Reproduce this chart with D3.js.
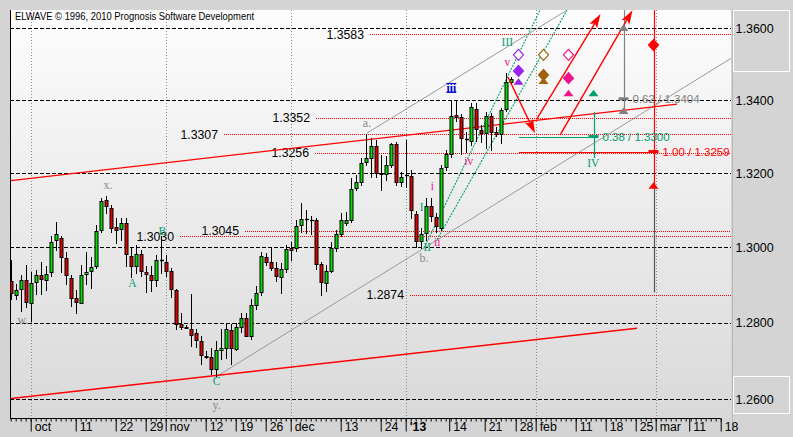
<!DOCTYPE html>
<html><head><meta charset="utf-8">
<script src="https://cdn.jsdelivr.net/npm/d3@7/dist/d3.min.js"></script>
<style>
html,body{margin:0;padding:0;background:#d4d4d4;overflow:hidden}
svg{display:block}
</style></head><body>
<svg id="chart" width="793" height="437"></svg>
<script>
// ---------------- DATA ----------------
const firstIndex = -4; // candle index of first bar (0 = 1 Oct 2012)
const opens = [
1.2911,1.2873,1.2890,1.2914,1.2853,1.2907,1.2925,1.2912,1.2934,1.3019,
1.3025,1.2971,1.2918,1.2866,1.2853,1.2929,1.2936,1.2950,1.3047,1.3128,
1.3107,1.3055,1.3048,1.3066,1.2977,1.2949,1.2982,1.2934,1.2926,1.2912,
1.2966,1.2961,1.2938,1.2885,1.2796,1.2788,1.2782,1.2772,1.2751,1.2710,
1.2709,1.2679,1.2727,1.2734,1.2780,1.2731,1.2787,1.2811,1.2765,1.2846,
1.2881,1.2975,1.2961,1.2946,1.2921,1.2943,1.2999,1.2997,1.3059,1.3075,
1.3073,1.3074,1.2955,1.2905,1.2938,1.2999,1.3036,1.3065,1.3072,1.3160,
1.3176,1.3230,1.3241,1.3274,1.3200,1.3198,1.3223,1.3279,1.3176,1.3194,
1.3193,1.3090,1.3017,1.3038,1.3110,1.3081,1.3053,1.3216,1.3253,1.3359,
1.3353,1.3292,1.3288,1.3377,1.3318,1.3309,1.3356,1.3313,1.3306,1.3375,
1.3451];
const highs = [
1.2967,1.2901,1.2925,1.2953,1.2934,1.2940,1.2962,1.2951,1.3029,1.3069,
1.3031,1.2988,1.2927,1.2885,1.2952,1.2987,1.2975,1.3059,1.3133,1.3139,
1.3114,1.3079,1.3079,1.3079,1.2997,1.3006,1.2993,1.2949,1.2949,1.2980,
1.3030,1.2980,1.2946,1.2890,1.2826,1.2793,1.2875,1.2782,1.2765,1.2724,
1.2734,1.2751,1.2782,1.2800,1.2796,1.2800,1.2825,1.2825,1.2861,1.2896,
1.2988,1.2984,1.3002,1.2961,1.2958,1.3006,1.3013,1.3074,1.3119,1.3101,
1.3083,1.3079,1.2961,1.2953,1.3015,1.3047,1.3092,1.3095,1.3187,1.3195,
1.3241,1.3307,1.3295,1.3291,1.3250,1.3247,1.3282,1.3285,1.3203,1.3291,
1.3209,1.3098,1.3052,1.3133,1.3133,1.3093,1.3223,1.3264,1.3400,1.3400,
1.3362,1.3313,1.3391,1.3391,1.3332,1.3368,1.3364,1.3327,1.3378,1.3474,
1.3464];
const lows = [
1.2861,1.2861,1.2831,1.2840,1.2804,1.2875,1.2876,1.2885,1.2923,1.2993,
1.2934,1.2901,1.2844,1.2826,1.2851,1.2903,1.2892,1.2945,1.3041,1.3092,
1.3041,1.3011,1.3020,1.2951,1.2920,1.2932,1.2923,1.2881,1.2883,1.2896,
1.2932,1.2923,1.2867,1.2782,1.2782,1.2785,1.2738,1.2735,1.2690,1.2706,
1.2664,1.2661,1.2703,1.2708,1.2690,1.2727,1.2774,1.2764,1.2756,1.2835,
1.2872,1.2953,1.2940,1.2909,1.2879,1.2935,1.2967,1.2990,1.3042,1.3039,
1.3036,1.2943,1.2874,1.2883,1.2935,1.2990,1.3031,1.3060,1.3069,1.3155,
1.3168,1.3223,1.3189,1.3189,1.3155,1.3182,1.3217,1.3168,1.3166,1.3163,
1.3079,1.3001,1.2998,1.3020,1.3071,1.3042,1.3047,1.3209,1.3244,1.3343,
1.3252,1.3259,1.3277,1.3288,1.3285,1.3268,1.3264,1.3302,1.3282,1.3370,
1.3447];
const closes = [
1.2877,1.2885,1.2914,1.2854,1.2905,1.2926,1.2916,1.2930,1.3014,1.3035,
1.2975,1.2925,1.2866,1.2855,1.2925,1.2934,1.2948,1.3044,1.3125,1.3110,
1.3053,1.3046,1.3065,1.2982,1.2949,1.2982,1.2936,1.2929,1.2912,1.2967,
1.2966,1.2938,1.2888,1.2797,1.2789,1.2789,1.2767,1.2753,1.2714,1.2711,
1.2679,1.2727,1.2734,1.2782,1.2732,1.2787,1.2811,1.2765,1.2846,1.2879,
1.2977,1.2960,1.2946,1.2923,1.2943,1.2996,1.2993,1.3058,1.3076,1.3075,
1.3073,1.2955,1.2908,1.2938,1.2999,1.3037,1.3072,1.3074,1.3157,1.3175,
1.3229,1.3242,1.3274,1.3200,1.3198,1.3221,1.3279,1.3176,1.3189,1.3194,
1.3101,1.3017,1.3035,1.3110,1.3083,1.3056,1.3214,1.3253,1.3356,1.3353,
1.3295,1.3292,1.3382,1.3321,1.3309,1.3356,1.3313,1.3306,1.3373,1.3451,
1.3460];

const priceTicks = [1.26,1.28,1.30,1.32,1.34,1.36];
const dateTickIdx = [0,9,17,23,27,35,41,47,52,62,70,75,83.7,90.8,97,101,109,115,121,125,131.7,138];
const dateTickLabels = ['oct','11','22','29','nov','12','19','26','dec','13','24',"'13",'14','21','28','feb','11','18','25','mar','11','18'];
const monthLabels = ['oct','nov','dec',"'13",'feb','mar'];

const levelValues  = [1.3583,1.3352,1.3307,1.3256,1.3045,1.3030,1.2874];
const levelFromIdx = [67.6, 56.8, 38.4, 56.6, 42.6, 29.6, 75.6];

const redChannel   = [[[-4.2,1.3180],[129,1.3389]], [[-4.4,1.2601],[121,1.2785]]];
const grayChannel  = [[[36.94,1.2659],[139.8,1.3516]], [[66.94,1.3309],[107,1.3651]]];
const greenChannel = [[[78.4,1.2998],[101.6,1.3651]], [[81,1.3020],[107,1.3651]]];
const arrowLines   = [[[95.2,1.3464],[100.6,1.3309]], [[100.9,1.3347],[113.7,1.3640]], [[105.6,1.3304],[120.1,1.3651]]];

const targetRatio  = ['0.62','0.38','1.00'];
const targetPrice  = [1.3404,1.3300,1.3259];
const targetIdx    = [118.3,112.3,124.3];
const targetFrom   = [null,97.4,97.4];
const targetGroup  = ['gray','green','red'];

const verticalIdx    = [118.3,112.3,124.3,124.3];
const verticalTop    = [1.3651,1.3368,1.3651,1.3166];
const verticalBottom = [1.3365,1.3241,1.3166,1.2880];
const verticalGroup  = ['gray','green','red','dgray'];

const markerIdx   = [97.3,97.3,97.3,102.3,102.3,102.3,107.3,107.3,107.3,112.3,124.3,124.3,118.3,118.3];
const markerPrice = [1.3526,1.3481,1.3451,1.3526,1.3470,1.3453,1.3526,1.3461,1.3419,1.3419,1.3553,1.3166,1.3370,1.3601];
const markerShape = ['dh','d','t','dh','d','t','dh','d','t','t','d','t','t','t'];
const markerGroup = ['purple','purple','purple','brown','brown','brown','pink','pink','pink','green','red','red','gray','gray'];

const waveText  = ['w.','x.','A','B','C','y.','a.','b.','I','II','i','ii','iii','iv','v','III','IV'];
const waveIdx   = [-1.8,15.2,20.06,26.06,36.94,36.94,67,78.4,77.94,79.06,80.06,81.06,83.86,87.34,95.06,95.06,112.26];
const wavePrice = [1.2806,1.3168,1.2906,1.3043,1.2646,1.2584,1.3336,1.2971,1.3108,1.3002,1.3164,1.3013,1.3434,1.3232,1.3507,1.3563,1.3228];
const waveGroup = ['wgray','wgray','green','green','green','wgray','wgray','wgray','green','green','pink','pink','blue','pink','pink','green','green'];

// ---------------- STYLE / LAYOUT ----------------
const colors = {green:'#00a070', pink:'#f0148c', gray:'#808080', wgray:'#8a8a8a', blue:'#0000d0',
  purple:'#9a22ee', brown:'#a0620c', red:'#ff0000', dgray:'#555555'};
const PL=10, PR=731, PT=10, PB=418;
const sans = '"Liberation Sans", Arial, sans-serif';
const serif = '"Liberation Serif", "Times New Roman", serif';

const svg = d3.select('#chart');
const x = d3.scaleLinear().domain([0,138]).range([32,722]);
const y = d3.scaleLog().domain([1.26,1.36]).range([399,28.3]);
const px = (v) => Math.round(v) + 0.5;

const defs = svg.append('defs');
const grad = defs.append('linearGradient').attr('id','bg').attr('x1',0).attr('y1',0).attr('x2',0).attr('y2',1);
grad.append('stop').attr('offset','0%').attr('stop-color','#fdfdfd');
grad.append('stop').attr('offset','100%').attr('stop-color','#d9d9d9');
defs.append('clipPath').attr('id','plotClip').append('rect').attr('x',PL+1).attr('y',PT).attr('width',PR-PL-1).attr('height',PB-PT);

svg.append('rect').attr('width',793).attr('height',437).attr('fill','#d4d4d4');
svg.append('rect').attr('x',PL).attr('y',PT).attr('width',PR-PL).attr('height',PB-PT).attr('fill','url(#bg)');

// right axis panel
const panel = svg.append('g');
panel.append('line').attr('x1',732.5).attr('x2',732.5).attr('y1',PT).attr('y2',430).attr('stroke','#b8b8b8');
panel.append('rect').attr('x',733.5).attr('y',10.5).attr('width',56).attr('height',61).attr('fill','none').attr('stroke','#ffffff');
panel.append('rect').attr('x',733.5).attr('y',376.5).attr('width',56).attr('height',37).attr('fill','none').attr('stroke','#ffffff');

const plot = svg.append('g').attr('clip-path','url(#plotClip)');

// month separators
const monthIdx = dateTickIdx.filter((d,i)=>monthLabels.includes(dateTickLabels[i]));
plot.selectAll('.month').data(monthIdx).join('line')
  .attr('x1',d=>px(x(d)-1.3)).attr('x2',d=>px(x(d)-1.3)).attr('y1',PT).attr('y2',PB)
  .attr('stroke','#8c8c8c').attr('stroke-dasharray','1,2');

// horizontal grid
plot.selectAll('.grid').data(priceTicks).join('line')
  .attr('x1',PL).attr('x2',PR).attr('y1',d=>px(y(d))).attr('y2',d=>px(y(d)))
  .attr('stroke','#000').attr('stroke-dasharray','4,2').attr('shape-rendering','crispEdges');

// level lines + labels
plot.selectAll('.lvl').data(levelValues).join('line')
  .attr('x1',(d,i)=>x(levelFromIdx[i])).attr('x2',PR).attr('y1',d=>px(y(d))).attr('y2',d=>px(y(d)))
  .attr('stroke','#ff0000').attr('stroke-dasharray','1,1').attr('shape-rendering','crispEdges');
plot.selectAll('.lvlt').data(levelValues).join('text')
  .attr('x',(d,i)=>x(levelFromIdx[i])-6).attr('y',d=>y(d)+4.5)
  .attr('text-anchor','end').attr('font-family',sans).attr('font-size',12.3).attr('fill','#000')
  .text(d=>d.toFixed(4));

// channel lines
function seg(g, pts, color, width, dash){
  g.append('line').attr('x1',x(pts[0][0])).attr('y1',y(pts[0][1])).attr('x2',x(pts[1][0])).attr('y2',y(pts[1][1]))
   .attr('stroke',color).attr('stroke-width',width).attr('stroke-dasharray',dash||null);
}
grayChannel.forEach(p=>seg(plot,p,'#9a9a9a',1));
redChannel.forEach(p=>seg(plot,p,'#ff0000',1.3));
greenChannel.forEach(p=>seg(plot,p,'#00a070',1.1,'2,1.2'));

// target horizontal lines
targetPrice.forEach((p,i)=>{
  if(targetFrom[i]!==null){
    plot.append('line').attr('x1',x(targetFrom[i])).attr('x2',x(targetIdx[i])).attr('y1',px(y(p))).attr('y2',px(y(p)))
      .attr('stroke',colors[targetGroup[i]]).attr('stroke-width',1.2);
  }
});
// verticals
verticalIdx.forEach((v,i)=>{
  plot.append('line').attr('x1',px(x(v))).attr('x2',px(x(v))).attr('y1',y(verticalTop[i])).attr('y2',y(verticalBottom[i]))
    .attr('stroke',colors[verticalGroup[i]]).attr('stroke-width',1.2);
});

// candles
const candles = opens.map((o,k)=>({i:firstIndex+k,o,h:highs[k],l:lows[k],c:closes[k]}));
const cg = plot.append('g');
candles.forEach(d=>{
  const cx = Math.round(x(d.i));
  cg.append('line').attr('x1',cx-0.5).attr('x2',cx-0.5).attr('y1',Math.round(y(d.h))).attr('y2',Math.round(y(d.l))+1)
    .attr('stroke','#000').attr('stroke-width',1);
  if(d.o===d.c){
    cg.append('line').attr('x1',cx-2).attr('x2',cx+2).attr('y1',px(y(d.o))).attr('y2',px(y(d.o))).attr('stroke','#000').attr('stroke-width',1.4);
  } else {
    const t = Math.round(Math.min(y(d.o),y(d.c)))+0.5, b = Math.round(Math.max(y(d.o),y(d.c)))+0.5;
    cg.append('rect').attr('x',cx-2.5+0.5).attr('y',t).attr('width',3).attr('height',Math.max(1,b-t))
      .attr('fill',d.c>d.o?'#00e000':'#e00000').attr('stroke','#000').attr('stroke-width',1);
  }
});

// arrows
arrowLines.forEach(p=>{
  const x1=x(p[0][0]), y1=y(p[0][1]), x2=x(p[1][0]), y2=y(p[1][1]);
  const dx=x2-x1, dy=y2-y1, L=Math.hypot(dx,dy), ux=dx/L, uy=dy/L, nx=-uy, ny=ux;
  const hl=14, hw=4.5;
  plot.append('line').attr('x1',x1).attr('y1',y1).attr('x2',x2-ux*hl*0.6).attr('y2',y2-uy*hl*0.6)
    .attr('stroke','#ff0000').attr('stroke-width',1.4);
  const bx=x2-ux*hl, by=y2-uy*hl;
  plot.append('path').attr('d',`M${x2},${y2}L${bx+nx*hw},${by+ny*hw}L${bx+ux*3},${by+uy*3}L${bx-nx*hw},${by-ny*hw}Z`)
    .attr('fill','#ff0000');
});

// target markers + labels
targetPrice.forEach((p,i)=>{
  const cx=x(targetIdx[i]), cy=y(p), col=colors[targetGroup[i]];
  plot.append('rect').attr('x',cx-5).attr('y',cy-1.5).attr('width',10).attr('height',3).attr('fill',col);
  plot.append('text').attr('x',cx+9).attr('y',cy+4).attr('font-family',sans).attr('font-size',11.5)
    .attr('fill',col).text(`${targetRatio[i]} / ${p.toFixed(4)}`);
});

// markers
markerIdx.forEach((v,i)=>{
  const cx=x(v), cy=y(markerPrice[i]), col=colors[markerGroup[i]], s=markerShape[i];
  if(s==='t'){
    plot.append('path').attr('d',`M${cx},${cy-3.5}L${cx+5},${cy+3}L${cx-5},${cy+3}Z`).attr('fill',col);
  } else {
    plot.append('path').attr('d',`M${cx},${cy-5.5}L${cx+5},${cy}L${cx},${cy+5.5}L${cx-5},${cy}Z`)
      .attr('fill',s==='d'?col:'#ffffff').attr('stroke',col).attr('stroke-width',1.2);
  }
});

// wave labels
waveText.forEach((t,i)=>{
  const g = waveGroup[i];
  plot.append('text').attr('x',x(waveIdx[i])).attr('y',y(wavePrice[i])+4)
    .attr('text-anchor','middle').attr('font-family',serif)
    .attr('font-size', (g==='wgray')?12:11.5).attr('font-weight',(g==='blue')?'bold':'normal')
    .attr('fill',colors[g]).text(t);
  if(g==='blue'){
    const cx=x(waveIdx[i]), cy=y(wavePrice[i]);
    plot.append('line').attr('x1',cx-5).attr('x2',cx+5).attr('y1',cy-4.5).attr('y2',cy-4.5).attr('stroke',colors.blue);
    plot.append('line').attr('x1',cx-5).attr('x2',cx+5).attr('y1',cy+4.5).attr('y2',cy+4.5).attr('stroke',colors.blue);
  }
});

// header
svg.append('text').attr('x',15).attr('y',19.5).attr('font-family',sans).attr('font-size',10.5)
  .attr('textLength',239).attr('lengthAdjust','spacingAndGlyphs').attr('fill','#000')
  .text('ELWAVE \u00A9 1996, 2010 Prognosis Software Development');

// left border
svg.append('line').attr('x1',10.5).attr('x2',10.5).attr('y1',PT).attr('y2',PB+1).attr('stroke','#000');

// bottom axis
const axisG = svg.append('g').attr('transform',`translate(-1.3,${PB+0.5})`);
axisG.append('line').attr('x1',11.3).attr('x2',x(138)).attr('y1',0).attr('y2',0).attr('stroke','#000');
axisG.selectAll('.minor').data(d3.range(-4,139)).join('line')
  .attr('x1',d=>Math.round(x(d))+0.5).attr('x2',d=>Math.round(x(d))+0.5).attr('y1',0).attr('y2',3).attr('stroke','#000');
const xAxis = d3.axisBottom(x).tickValues(dateTickIdx).tickSize(13).tickFormat((d,i)=>dateTickLabels[i]);
const xa = axisG.append('g').call(xAxis);
xa.select('.domain').remove();
xa.selectAll('.tick line').attr('stroke','#000');
xa.selectAll('.tick text').attr('x',3.5).attr('y',3.5).attr('dy','0.71em').attr('text-anchor','start')
  .attr('font-family',sans).attr('font-size',12.3).attr('fill','#000')
  .attr('font-weight',(d,i)=>dateTickLabels[i]==="'13"?'bold':'normal');

// right axis
const yAxis = d3.axisRight(y).tickValues(priceTicks).tickSize(0).tickPadding(0).tickFormat(d3.format('.4f'));
const ya = svg.append('g').attr('transform','translate(735.5,0)').call(yAxis);
ya.select('.domain').remove();
ya.selectAll('.tick text').attr('font-family',sans).attr('font-size',12.5).attr('fill','#000');
</script>
</body></html>
